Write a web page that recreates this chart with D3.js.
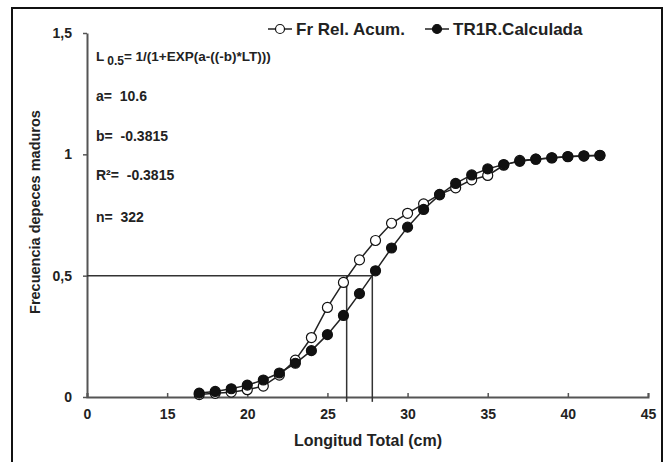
<!DOCTYPE html>
<html>
<head>
<meta charset="utf-8">
<script src="https://cdn.jsdelivr.net/npm/d3@7"></script>
<style>
  body { margin: 0; background: #fff; }
  svg text { font-family: "Liberation Sans Narrow", "Arial Narrow", "Liberation Sans", Arial, sans-serif; font-weight: bold; fill: #222; }
</style>
</head>
<body>
<div id="chart"></div>
<script>
// data
var lengths = [17, 18, 19, 20, 21, 22, 23, 24, 25, 26, 27, 28, 29, 30, 31, 32, 33, 34, 35, 36, 37, 38, 39, 40, 41, 42];
var frRelAcum = [0.01, 0.015, 0.02, 0.03, 0.045, 0.09, 0.152, 0.245, 0.369, 0.472, 0.565, 0.645, 0.716, 0.757, 0.796, 0.835, 0.862, 0.895, 0.913, 0.955, 0.975, 0.98, 0.985, 0.99, 0.993, 0.995];
var calculada = [0.016, 0.023, 0.034, 0.049, 0.07, 0.099, 0.139, 0.191, 0.257, 0.336, 0.426, 0.52, 0.614, 0.7, 0.773, 0.833, 0.88, 0.915, 0.94, 0.958, 0.971, 0.98, 0.986, 0.991, 0.994, 0.996];
var refLengths = [26.2, 27.8];
var xTicks = [10, 15, 20, 25, 30, 35, 40, 45];
var xTickLabels = ["0", "15", "20", "25", "30", "35", "40", "45"];
var yTicks = [0, 0.5, 1, 1.5];
var yTickLabels = ["0", "0,5", "1", "1,5"];
var seriesNames = ["Fr Rel. Acum.", "TR1R.Calculada"];
var notes = ["a=  10.6", "b=  -0.3815", "R\u00B2=  -0.3815", "n=  322"];

var width = 665, height = 462;
var svg = d3.select("#chart").append("svg")
  .attr("width", width)
  .attr("height", height);

// outer frame
svg.append("rect")
  .attr("x", 12).attr("y", 8)
  .attr("width", 650).attr("height", 470)
  .attr("fill", "none")
  .attr("stroke", "#111")
  .attr("stroke-width", 2);

var x = d3.scaleLinear().domain([10, 45]).range([87, 648]);
var y = d3.scaleLinear().domain([0, 1.5]).range([397, 33]);

// axes
var xAxis = d3.axisBottom(x)
  .tickValues(xTicks)
  .tickFormat(function (d, i) { return xTickLabels[i]; })
  .tickSizeInner(-4).tickSizeOuter(-4).tickPadding(10);
var gx = svg.append("g")
  .attr("transform", "translate(0," + y(0) + ")")
  .call(xAxis);

var yAxis = d3.axisLeft(y)
  .tickValues(yTicks)
  .tickFormat(function (d, i) { return yTickLabels[i]; })
  .tickSizeInner(4).tickSizeOuter(0).tickPadding(11);
var gy = svg.append("g")
  .attr("transform", "translate(" + x(10) + ",0)")
  .call(yAxis);

[gx, gy].forEach(function (g) {
  g.select(".domain").attr("stroke", "#555").attr("stroke-width", 2);
  g.selectAll(".tick line").attr("stroke", "#555").attr("stroke-width", 1.5);
  g.selectAll(".tick text").attr("font-size", 14).attr("fill", "#222");
});
gx.selectAll(".tick text").attr("dy", "0.85em");

// axis titles
svg.append("text")
  .attr("x", 368).attr("y", 446)
  .attr("text-anchor", "middle")
  .attr("font-size", 16)
  .text("Longitud Total (cm)");

svg.append("text")
  .attr("transform", "translate(40,212) rotate(-90)")
  .attr("text-anchor", "middle")
  .attr("font-size", 14.5)
  .text("Frecuencia depeces maduros");

// reference lines at 0.5
svg.append("line")
  .attr("x1", x(10)).attr("x2", x(d3.max(refLengths)))
  .attr("y1", y(0.5)).attr("y2", y(0.5))
  .attr("stroke", "#333").attr("stroke-width", 1.5);
svg.selectAll(".ref").data(refLengths).enter().append("line")
  .attr("class", "ref")
  .attr("x1", function (d) { return x(d); })
  .attr("x2", function (d) { return x(d); })
  .attr("y1", y(0.5)).attr("y2", y(-0.02))
  .attr("stroke", "#333").attr("stroke-width", 1.5);

// series
var line = d3.line()
  .x(function (d) { return x(d[0]); })
  .y(function (d) { return y(d[1]); });

function drawSeries(values, fill) {
  var pts = lengths.map(function (l, i) { return [l, values[i]]; });
  svg.append("path")
    .datum(pts)
    .attr("fill", "none")
    .attr("stroke", "#222")
    .attr("stroke-width", 1.5)
    .attr("d", line);
  svg.append("g").selectAll("circle")
    .data(pts).enter().append("circle")
    .attr("cx", function (d) { return x(d[0]); })
    .attr("cy", function (d) { return y(d[1]); })
    .attr("r", 5)
    .attr("fill", fill)
    .attr("stroke", "#111")
    .attr("stroke-width", 1.2);
}
drawSeries(frRelAcum, "#fff");
drawSeries(calculada, "#111");

// legend
var legend = svg.append("g").selectAll("g")
  .data(seriesNames).enter().append("g")
  .attr("transform", function (d, i) { return "translate(" + (i === 0 ? 268 : 425) + ",29)"; });
legend.append("line")
  .attr("x1", 0).attr("x2", 24)
  .attr("stroke", "#222").attr("stroke-width", 1.5);
legend.append("circle")
  .attr("cx", 12).attr("r", 4.5)
  .attr("fill", function (d, i) { return i === 0 ? "#fff" : "#111"; })
  .attr("stroke", "#111").attr("stroke-width", 1.2);
legend.append("text")
  .attr("x", 28).attr("dy", "0.35em")
  .attr("font-size", 17)
  .text(function (d) { return d; });

// formula and parameters
var f = svg.append("text")
  .attr("x", 96).attr("y", 61)
  .attr("font-size", 13.5);
f.append("tspan").text("L");
f.append("tspan").attr("dy", 4).attr("dx", 3).attr("font-size", 12).text("0.5");
f.append("tspan").attr("dy", -4).text("= 1/(1+EXP(a-((-b)*LT)))");

svg.selectAll(".note").data(notes).enter().append("text")
  .attr("class", "note")
  .attr("x", 96)
  .attr("y", function (d, i) { return [101, 141, 180, 222][i]; })
  .attr("font-size", 14)
  .attr("xml:space", "preserve")
  .text(function (d) { return d; });
</script>
</body>
</html>
